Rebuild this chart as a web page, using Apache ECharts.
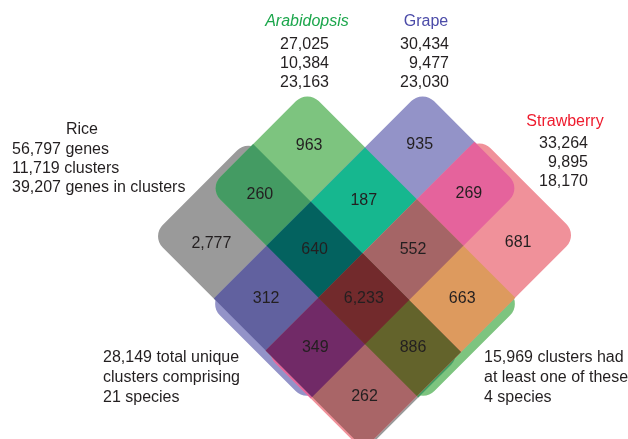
<!DOCTYPE html>
<html><head><meta charset="utf-8">
<script src="https://cdn.jsdelivr.net/npm/echarts@6/dist/echarts.min.js"></script>
<style>html,body{margin:0;padding:0;background:#fff}#c{width:628px;height:439px}</style>
</head><body><div id="c"></div>
<script>
// ---- data ----
const speciesNames = ['Rice', 'Arabidopsis', 'Grape', 'Strawberry'];
const geneCounts = [56797, 27025, 30434, 33264];
const clusterCounts = [11719, 10384, 9477, 9895];
const genesInClusters = [39207, 23163, 23030, 18170];
const totalUniqueClusters = 28149;
const totalSpecies = 21;
const clustersWithAny = 15969;
// set extents on the diamond lattice (i runs down-right, j runs down-left)
const setIRange = [[-2.90, 1.56], [-2.80, 1.66], [-1.60, 0.45], [-0.52, 1.53]];
const setJRange = [[-0.47, 1.55], [-1.60, 0.45], [-2.80, 1.66], [-2.90, 1.58]];
// regions (indices into speciesNames) and cluster counts
const regionSets = [[0], [1], [2], [3], [0, 1], [1, 2], [2, 3], [0, 2], [1, 3], [0, 3],
  [0, 1, 2], [1, 2, 3], [0, 2, 3], [0, 1, 3], [0, 1, 2, 3]];
const regionCounts = [2777, 963, 935, 681, 260, 187, 269, 312, 663, 262, 640, 552, 349, 886, 6233];

// ---- styles ----
const regionColors = ['#9a9a9a', '#7dc47f', '#9393c8', '#f0919a',
  '#449b63', '#16b78f', '#e5639c', '#61619f', '#dd9a5e', '#a96567',
  '#03625f', '#a56566', '#712a67', '#63632b', '#722a2c'];
const titleColors = ['#231f20', '#1ba64b', '#4b4ba8', '#ee1c2e'];
const FONT = '"Liberation Sans", Arial, Helvetica, sans-serif';
const CORNER = 16;

function bounds(sets) {
  const b = {i0: -Infinity, i1: Infinity, j0: -Infinity, j1: Infinity};
  sets.forEach(s => {
    if (setIRange[s][0] > b.i0) { b.i0 = setIRange[s][0]; b.i0s = s; }
    if (setIRange[s][1] < b.i1) { b.i1 = setIRange[s][1]; b.i1s = s; }
    if (setJRange[s][0] > b.j0) { b.j0 = setJRange[s][0]; b.j0s = s; }
    if (setJRange[s][1] < b.j1) { b.j1 = setJRange[s][1]; b.j1s = s; }
  });
  return b;
}
// centroid of the main body of each exact region (thin edge strips ignored)
function centroids() {
  const is = [...new Set(setIRange.flat())].sort((a, b) => a - b);
  const js = [...new Set(setJRange.flat())].sort((a, b) => a - b);
  const acc = regionSets.map(() => ({a: 0, i: 0, j: 0}));
  const keys = regionSets.map(s => s.join(','));
  for (let a = 0; a < is.length - 1; a++) for (let b = 0; b < js.length - 1; b++) {
    const di = is[a + 1] - is[a], dj = js[b + 1] - js[b];
    if (di < 0.2 || dj < 0.2) continue;
    const mi = (is[a] + is[a + 1]) / 2, mj = (js[b] + js[b + 1]) / 2;
    const sig = [];
    for (let s = 0; s < 4; s++) if (mi > setIRange[s][0] && mi < setIRange[s][1] && mj > setJRange[s][0] && mj < setJRange[s][1]) sig.push(s);
    const k = keys.indexOf(sig.join(','));
    if (k < 0) continue;
    const ar = di * dj;
    acc[k].a += ar; acc[k].i += ar * mi; acc[k].j += ar * mj;
  }
  return acc.map(o => [o.i / o.a, o.j / o.a]);
}
const cents = centroids();

const texts = [];
function addText(str, x, y, align, color, italic) {
  texts.push({type: 'text', x: x, y: y, silent: true,
    style: {text: str, fill: color || '#231f20', font: (italic ? 'italic ' : '') + '16px ' + FONT,
      textAlign: align, textVerticalAlign: 'middle'}});
}
const fmt = n => n.toLocaleString('en-US');
// Rice
addText(speciesNames[0], 82, 130, 'center', titleColors[0]);
addText(fmt(geneCounts[0]) + ' genes', 12, 150, 'left');
addText(fmt(clusterCounts[0]) + ' clusters', 12, 169, 'left');
addText(fmt(genesInClusters[0]) + ' genes in clusters', 12, 188, 'left');
// Arabidopsis
addText(speciesNames[1], 307, 22, 'center', titleColors[1], true);
[geneCounts[1], clusterCounts[1], genesInClusters[1]].forEach((v, k) => addText(fmt(v), 329, 45 + k * 19, 'right'));
// Grape
addText(speciesNames[2], 426, 22, 'center', titleColors[2]);
[geneCounts[2], clusterCounts[2], genesInClusters[2]].forEach((v, k) => addText(fmt(v), 449, 45 + k * 19, 'right'));
// Strawberry
addText(speciesNames[3], 565, 122, 'center', titleColors[3]);
[geneCounts[3], clusterCounts[3], genesInClusters[3]].forEach((v, k) => addText(fmt(v), 588, 144 + k * 19, 'right'));
// notes
addText(fmt(totalUniqueClusters) + ' total unique', 103, 358, 'left');
addText('clusters comprising', 103, 378, 'left');
addText(totalSpecies + ' species', 103, 398, 'left');
addText(fmt(clustersWithAny) + ' clusters had', 484, 358, 'left');
addText('at least one of these', 484, 378, 'left');
addText(speciesNames.length + ' species', 484, 398, 'left');

const chart = echarts.init(document.getElementById('c'), null, {renderer: 'canvas'});
chart.setOption({
  animation: false,
  backgroundColor: '#fff',
  grid: {left: 125, right: 23, top: 61, bottom: 18},
  xAxis: {type: 'value', min: -5, max: 5, show: false},
  yAxis: {type: 'value', min: -5, max: 2.5, inverse: true, show: false},
  graphic: texts,
  series: [{
    type: 'custom',
    clip: false,
    silent: true,
    data: regionSets.map((s, k) => [k]),
    renderItem: function (params, api) {
      const k = api.value(0);
      const b = bounds(regionSets[k]);
      const ic = (b.i0 + b.i1) / 2, jc = (b.j0 + b.j1) / 2;
      const c = api.coord([ic - jc, ic + jc]);
      const unit = api.size([1, 1])[0] * Math.SQRT2;
      const w = (b.i1 - b.i0) * unit, h = (b.j1 - b.j0) * unit;
      const r = [b.i0s === b.j0s ? CORNER : 0, b.i1s === b.j0s ? CORNER : 0,
        b.i1s === b.j1s ? CORNER : 0, b.i0s === b.j1s ? CORNER : 0];
      return {type: 'rect', x: c[0], y: c[1], rotation: -Math.PI / 4,
        shape: {x: -w / 2, y: -h / 2, width: w, height: h, r: r},
        style: {fill: regionColors[k]}};
    }
  }, {
    type: 'custom',
    clip: false,
    silent: true,
    data: regionCounts.map((v, k) => [cents[k][0] - cents[k][1], cents[k][0] + cents[k][1], v]),
    renderItem: function (params, api) {
      const p = api.coord([api.value(0), api.value(1)]);
      return {type: 'text', x: p[0], y: p[1],
        style: {text: fmt(api.value(2)), fill: '#231f20', font: '16px ' + FONT,
          textAlign: 'center', textVerticalAlign: 'middle'}};
    }
  }]
});
</script></body></html>
